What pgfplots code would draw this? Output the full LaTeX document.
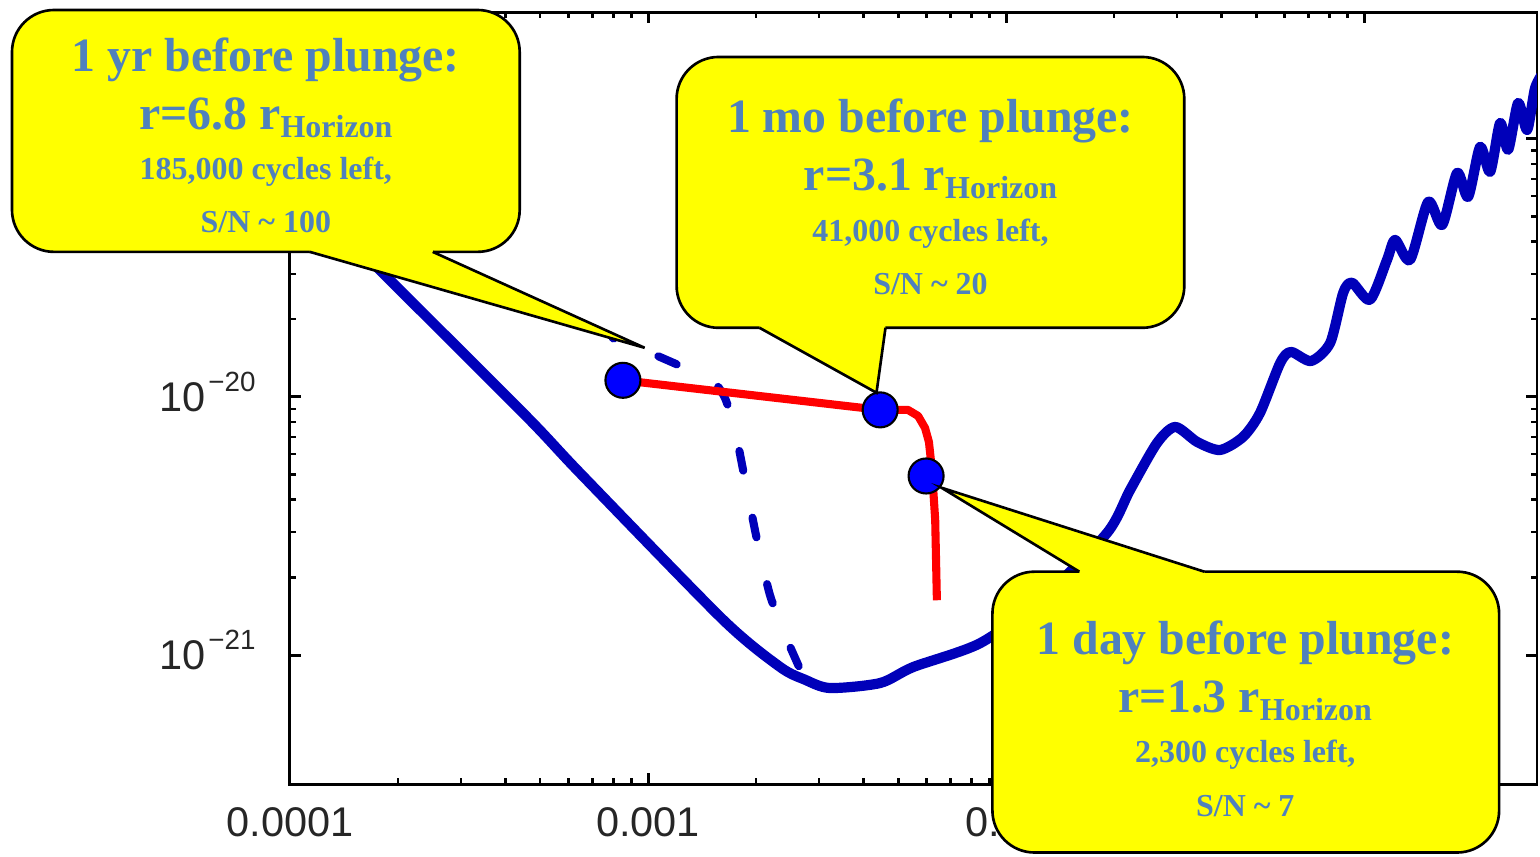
\documentclass[border=0pt]{standalone}
\usepackage{fontspec}
\setmainfont{Liberation Serif}
\newfontfamily\ticksf{Liberation Sans}
\usepackage{pgfplots}
\pgfplotsset{compat=1.18}

\definecolor{curveblue}{RGB}{0,0,185}
\definecolor{dotblue}{RGB}{0,0,255}
\definecolor{calloutyellow}{RGB}{255,255,0}
\definecolor{callouttext}{RGB}{79,129,189}

% power-of-ten tick label in the sans font (exponent kept out of the label height)
\newcommand\tenpow[1]{10\hspace{0.3mm}\smash{\raisebox{2mm}{\fontsize{7.9}{9}\selectfont −#1}}}
% callout text styles
\newcommand\bigline{\bfseries\fontsize{13.6}{16}\selectfont}
\newcommand\smallline{\bfseries\fontsize{9.1}{11}\selectfont}
\newcommand\rh[1]{r=#1 r\raisebox{-0.75mm}{\smallline Horizon}}

\begin{document}
\begin{tikzpicture}
\useasboundingbox (0,0) rectangle (15.40cm,8.56cm);

\begin{axis}[
  at={(2.90cm,0.72cm)}, anchor=south west,
  scale only axis, width=12.47cm, height=7.72cm,
  xmode=log, ymode=log,
  xmin=1e-4, xmax=0.304,
  ymin=3.162e-22, ymax=3.10e-19,
  xtick={1e-4,1e-3,1e-2,1e-1},
  xticklabels={0.0001,0.001,0.01,0.1},
  ytick={1e-21,1e-20,1e-19},
  yticklabels={\tenpow{21},\tenpow{20},\tenpow{19}},
  axis line style={line width=0.85pt},
  every tick/.append style={black, line width=0.85pt},
  every minor tick/.append style={black, line width=0.7pt},
  major tick length=1.1mm, minor tick length=0.6mm,
  tick label style={font=\ticksf\fontsize{11.8}{14}\selectfont, text=black!85},
  xticklabel style={yshift=-1.1mm},
  yticklabel style={xshift=-2.2mm},
]

% sensitivity curve
\addplot[curveblue, line width=2.9pt, smooth, tension=0.45, line join=round] coordinates {
  (1e-4,6.93e-20) (1.818e-4,3.02e-20) (4.59e-4,8.37e-21) (6.46e-4,5.07e-21)
  (1.62e-3,1.37e-21) (2.34e-3,8.98e-22) (2.74e-3,8.03e-22) (3.22e-3,7.45e-22)
  (4.45e-3,7.79e-22) (5.50e-3,8.98e-22) (8.45e-3,1.11e-21) (1.245e-2,1.63e-21)
  (1.914e-2,2.97e-21) (2.22e-2,4.36e-21) (2.64e-2,6.63e-21) (2.97e-2,7.65e-21)
  (3.42e-2,6.69e-21) (3.96e-2,6.23e-21) (4.59e-2,7.0e-21) (5.12e-2,8.67e-21)
  (5.83e-2,1.354e-20) (6.25e-2,1.494e-20) (7.11e-2,1.378e-20) (8.04e-2,1.62e-20)
  (8.74e-2,2.53e-20) (9.26e-2,2.77e-20) (0.1039,2.38e-20) (0.1159,3.40e-20)
  (0.1221,4.06e-20) (0.1344,3.40e-20) (0.151,5.70e-20) (0.1652,4.64e-20)
  (0.1819,7.38e-20) (0.1952,5.96e-20) (0.2109,9.31e-20) (0.2249,7.45e-20)
  (0.2399,1.153e-19) (0.2525,9.07e-20) (0.2693,1.378e-19) (0.2853,1.083e-19)
  (0.3004,1.577e-19) (0.320,1.85e-19)
};

% signal before plunge (dashed)
\addplot[curveblue, line width=2.3pt, smooth, tension=0.4, line cap=round,
  dash pattern=on 2.0mm off 4.8mm, dash phase=1.9mm] coordinates {
  (7.98e-4,1.69e-20) (1.046e-3,1.455e-20) (1.31e-3,1.27e-20) (1.51e-3,1.164e-20)
  (1.64e-3,9.91e-21) (1.75e-3,7.45e-21) (1.866e-3,4.77e-21) (2.016e-3,2.79e-21)
  (2.19e-3,1.71e-21) (2.414e-3,1.195e-21) (2.74e-3,8.03e-22)
};

% inspiral track
\addplot[red, line width=2.3pt, line join=round] coordinates {
  (8.51e-4,1.16e-20) (4.45e-3,8.91e-21) (5.32e-3,8.91e-21) (5.68e-3,8.44e-21)
  (5.94e-3,7.58e-21) (6.09e-3,6.69e-21) (6.21e-3,5.21e-21) (6.34e-3,3.34e-21)
  (6.41e-3,1.63e-21)
};

% epochs before plunge
\addplot[only marks, mark=*, mark size=1.75mm,
  mark options={fill=dotblue, draw=black, line width=0.6pt}] coordinates {
  (8.51e-4,1.16e-20) (4.45e-3,8.91e-21) (5.98e-3,4.94e-21)
};
\end{axis}

% callouts
\begin{scope}[x=0.01cm, y=-0.01cm, shift={(0cm,8.56cm)},
  box/.style={draw=black, line width=0.75pt, fill=calloutyellow, rounded corners=0.42cm},
  tip/.style={draw=black, line width=0.75pt, line join=miter},
  txt/.style={anchor=base, inner sep=0pt, text=callouttext}]

  \path[box] (12,10) rectangle (520,252);
  \fill[calloutyellow] (310,244) -- (310,252) -- (645,348) -- (433,252) -- (433,244) -- cycle;
  \path[tip] (310,252) -- (645,348) -- (433,252);
  \node[txt, font=\bigline] at (266,72) {1 yr before plunge:};
  \node[txt, font=\bigline] at (266,130) {\rh{6.8}};
  \node[txt, font=\smallline] at (266,180) {185,000 cycles left,};
  \node[txt, font=\smallline] at (266,233) {S/N \textasciitilde{} 100};

  \path[box] (677,57) rectangle (1185,328);
  \fill[calloutyellow] (760,320) -- (760,328) -- (877,393) -- (886,328) -- (886,320) -- cycle;
  \path[tip] (760,328) -- (877,393) -- (886,328);
  \node[txt, font=\bigline] at (931,133) {1 mo before plunge:};
  \node[txt, font=\bigline] at (931,191) {\rh{3.1}};
  \node[txt, font=\smallline] at (931,242) {41,000 cycles left,};
  \node[txt, font=\smallline] at (931,295) {S/N \textasciitilde{} 20};

  \path[box] (993,572) rectangle (1500,853);
  \fill[calloutyellow] (1080,580) -- (1080,572) -- (942,488) -- (1205,572) -- (1205,580) -- cycle;
  \path[tip] (1080,572) -- (942,488) -- (1205,572);
  \node[txt, font=\bigline] at (1246,655) {1 day before plunge:};
  \node[txt, font=\bigline] at (1246,713) {\rh{1.3}};
  \node[txt, font=\smallline] at (1246,763) {2,300 cycles left,};
  \node[txt, font=\smallline] at (1246,817) {S/N \textasciitilde{} 7};
\end{scope}
\end{tikzpicture}
\end{document}
